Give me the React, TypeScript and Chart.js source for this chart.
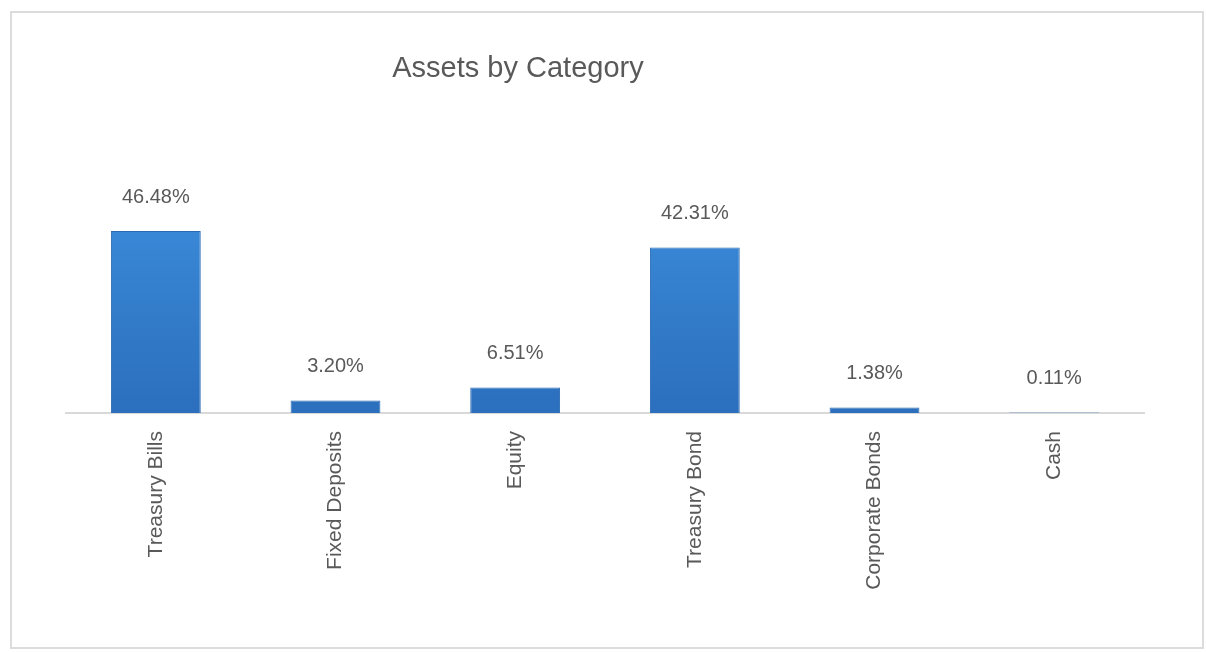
import React, { useEffect, useRef } from "react";
import { Chart, registerables } from "chart.js";

Chart.register(...registerables);

const categories = ["Treasury Bills", "Fixed Deposits", "Equity", "Treasury Bond", "Corporate Bonds", "Cash"];
const values = [46.48, 3.2, 6.51, 42.31, 1.38, 0.11];
const valueLabels = ["46.48%", "3.20%", "6.51%", "42.31%", "1.38%", "0.11%"];
const titleText = "Assets by Category";

const FONT = "'Liberation Sans', Arial, Helvetica, sans-serif";
const TEXT = "#595959";

export default function App() {
  const ref = useRef<HTMLCanvasElement | null>(null);

  useEffect(() => {
    if (!ref.current) return;

    const labelPlugin = {
      id: "valueLabels",
      afterDatasetsDraw(chart: any) {
        const ctx = chart.ctx;
        const meta = chart.getDatasetMeta(0);
        ctx.save();
        ctx.font = `20px ${FONT}`;
        ctx.fillStyle = TEXT;
        ctx.textAlign = "center";
        ctx.textBaseline = "middle";
        meta.data.forEach((bar: any, i: number) => {
          ctx.fillText(valueLabels[i], bar.x, bar.y - 34);
        });
        ctx.restore();
      },
    };

    const titlePlugin = {
      id: "customTitle",
      afterDraw(chart: any) {
        const ctx = chart.ctx;
        ctx.save();
        ctx.font = `29px ${FONT}`;
        ctx.fillStyle = TEXT;
        ctx.textAlign = "center";
        ctx.textBaseline = "middle";
        ctx.fillText(titleText, 506, 56);
        ctx.restore();
      },
    };

    const chart = new Chart(ref.current, {
      type: "bar",
      data: {
        labels: categories,
        datasets: [
          {
            data: values,
            backgroundColor: (c: any) => {
              const area = c.chart.chartArea;
              if (!area) return "#3380d0";
              const g = c.chart.ctx.createLinearGradient(0, area.top, 0, area.bottom);
              g.addColorStop(0, "#3f93e2");
              g.addColorStop(1, "#2b6fbd");
              return g;
            },
            borderColor: "#2a6ab3",
            borderWidth: 1,
            barPercentage: 0.5,
            categoryPercentage: 1,
          },
        ],
      },
      plugins: [labelPlugin, titlePlugin],
      options: {
        animation: false,
        responsive: false,
        maintainAspectRatio: false,
        layout: { padding: { left: 54, right: 58, top: 126, bottom: 0 } },
        plugins: {
          legend: { display: false },
          title: { display: false },
          tooltip: { enabled: false },
        },
        scales: {
          x: {
            grid: { display: false, drawTicks: false },
            border: { display: true, color: "#d9d9d9", width: 2 },
            ticks: {
              color: TEXT,
              font: { family: FONT, size: 21 },
              minRotation: 90,
              maxRotation: 90,
              padding: 18,
              autoSkip: false,
            },
            afterFit: (scale: any) => {
              scale.height = 234;
            },
          },
          y: {
            display: false,
            min: 0,
            max: 70,
          },
        },
      },
    });

    return () => chart.destroy();
  }, []);

  return (
    <div
      style={{
        position: "absolute",
        left: 10,
        top: 11,
        width: 1194,
        height: 638,
        border: "2px solid #dcdcdc",
        boxSizing: "border-box",
        background: "#ffffff",
      }}
    >
      <canvas ref={ref} width={1190} height={634} style={{ display: "block" }} />
    </div>
  );
}
